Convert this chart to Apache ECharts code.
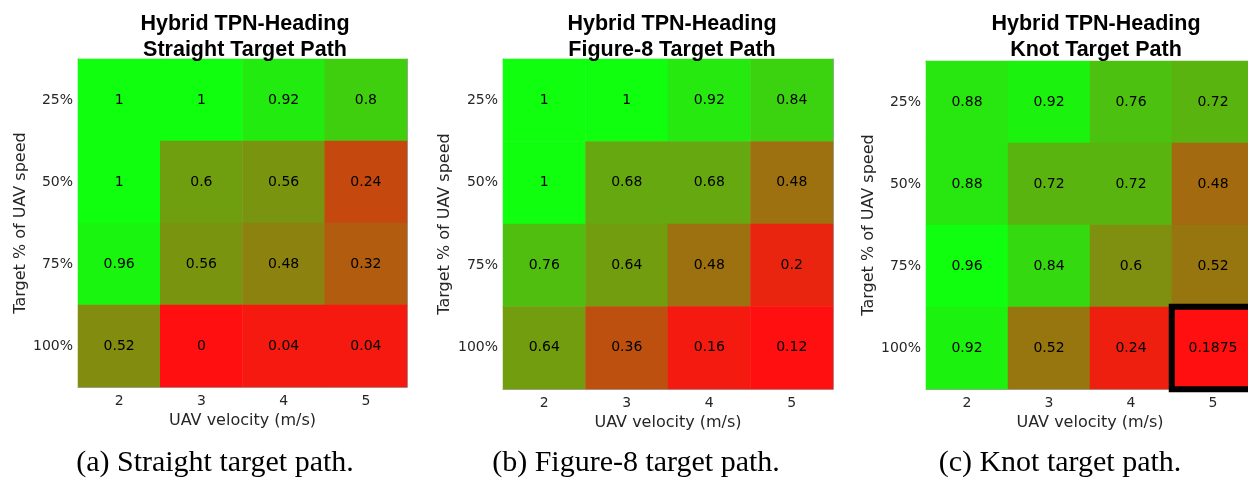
<!DOCTYPE html>
<html>
<head>
<meta charset="utf-8">
<script src="https://cdn.jsdelivr.net/npm/echarts@6/dist/echarts.min.js"></script>
<style>html,body{margin:0;padding:0;background:#fff;}#c{width:1248px;height:478px;}</style>
</head>
<body>
<div id="c"></div>
<script>
const velocities = ['2', '3', '4', '5'];
const targetSpeeds = ['100%', '75%', '50%', '25%']; // bottom to top
const titles = ['Hybrid TPN-Heading\nStraight Target Path', 'Hybrid TPN-Heading\nFigure-8 Target Path', 'Hybrid TPN-Heading\nKnot Target Path'];
const captions = ['(a) Straight target path.', '(b) Figure-8 target path.', '(c) Knot target path.'];
// rows ordered top (25%) to bottom (100%), columns velocity 2..5
const straight = [
  [1, 1, 0.92, 0.8],
  [1, 0.6, 0.56, 0.24],
  [0.96, 0.56, 0.48, 0.32],
  [0.52, 0, 0.04, 0.04]
];
const figure8 = [
  [1, 1, 0.92, 0.84],
  [1, 0.68, 0.68, 0.48],
  [0.76, 0.64, 0.48, 0.2],
  [0.64, 0.36, 0.16, 0.12]
];
const knot = [
  [0.88, 0.92, 0.76, 0.72],
  [0.88, 0.72, 0.72, 0.48],
  [0.96, 0.84, 0.6, 0.52],
  [0.92, 0.52, 0.24, 0.1875]
];
const highlight = [null, null, {row: 3, col: 3}];

const grids = [
  {left: 78, top: 59, width: 329, height: 328},
  {left: 503, top: 59, width: 330, height: 330},
  {left: 926, top: 61, width: 328, height: 328}
];
const yNameGap = [48, 50, 48];
const titleX = [240, 667, 1091];
const captionX = [210, 631, 1055];
const tables = [straight, figure8, knot];

const chart = echarts.init(document.getElementById('c'));
const option = {
  backgroundColor: '#fff',
  animation: false,
  title: [],
  grid: [],
  xAxis: [],
  yAxis: [],
  visualMap: [],
  series: []
};
const tickColor = '#262626';
tables.forEach((tbl, i) => {
  const g = grids[i];
  option.grid.push(Object.assign({containLabel: false, outerBoundsMode: 'none'}, g));
  option.title.push({
    text: titles[i], left: titleX[i], top: 6, textAlign: 'center',
    textStyle: {fontFamily: 'Liberation Sans, Arial, sans-serif', fontWeight: 'bold', fontSize: 21.5, lineHeight: 26, color: '#000'}
  });
  option.title.push({
    text: captions[i], left: captionX[i], top: 443, textAlign: 'center',
    textStyle: {fontFamily: 'Liberation Serif, Times New Roman, serif', fontWeight: 'normal', fontSize: 30, color: '#000'}
  });
  const axLine = {show: true, lineStyle: {color: '#a6a6a6', width: 1}};
  const axTick = {show: true, inside: true, alignWithLabel: true, length: 4, lineStyle: {color: '#404040'}};
  option.xAxis.push({
    type: 'category', gridIndex: i, data: velocities, position: 'bottom',
    axisLine: axLine, axisTick: axTick,
    axisLabel: {fontFamily: 'DejaVu Sans', fontSize: 14, color: tickColor, margin: 7},
    name: 'UAV velocity (m/s)', nameLocation: 'middle', nameGap: 25,
    nameTextStyle: {fontFamily: 'DejaVu Sans', fontSize: 16, color: tickColor},
    splitLine: {show: false}
  });
  option.xAxis.push({
    type: 'category', gridIndex: i, data: velocities, position: 'top',
    axisLine: axLine, axisTick: axTick, axisLabel: {show: false}, splitLine: {show: false}
  });
  option.yAxis.push({
    type: 'category', gridIndex: i, data: targetSpeeds, position: 'left',
    axisLine: axLine, axisTick: axTick,
    axisLabel: {fontFamily: 'DejaVu Sans', fontSize: 14, color: tickColor, margin: 5},
    name: 'Target % of UAV speed', nameLocation: 'middle', nameGap: yNameGap[i], nameRotate: 90,
    nameTextStyle: {fontFamily: 'DejaVu Sans', fontSize: 16, color: tickColor},
    splitLine: {show: false}
  });
  option.yAxis.push({
    type: 'category', gridIndex: i, data: targetSpeeds, position: 'right',
    axisLine: axLine, axisTick: axTick, axisLabel: {show: false}, splitLine: {show: false}
  });
  const flat = [].concat(...tbl);
  const data = [];
  tbl.forEach((row, r) => {
    row.forEach((v, c) => {
      const item = {value: [c, targetSpeeds.length - 1 - r, v]};
      const h = highlight[i];
      if (h && h.row === r && h.col === c) {
        item.itemStyle = {borderColor: '#000', borderWidth: 6};
      }
      data.push(item);
    });
  });
  data.sort((a, b) => (a.itemStyle ? 1 : 0) - (b.itemStyle ? 1 : 0));
  option.visualMap.push({
    show: false, seriesIndex: i, dimension: 2,
    min: Math.min(...flat), max: Math.max(...flat),
    inRange: {color: ['#ff0f0f', '#0fff0f']}
  });
  option.series.push({
    type: 'heatmap', xAxisIndex: 2 * i, yAxisIndex: 2 * i, data: data,
    label: {show: true, fontFamily: 'DejaVu Sans', fontSize: 14, color: '#000',
      formatter: p => String(p.value[2])},
    emphasis: {disabled: true}
  });
});
chart.setOption(option);
</script>
</body>
</html>
